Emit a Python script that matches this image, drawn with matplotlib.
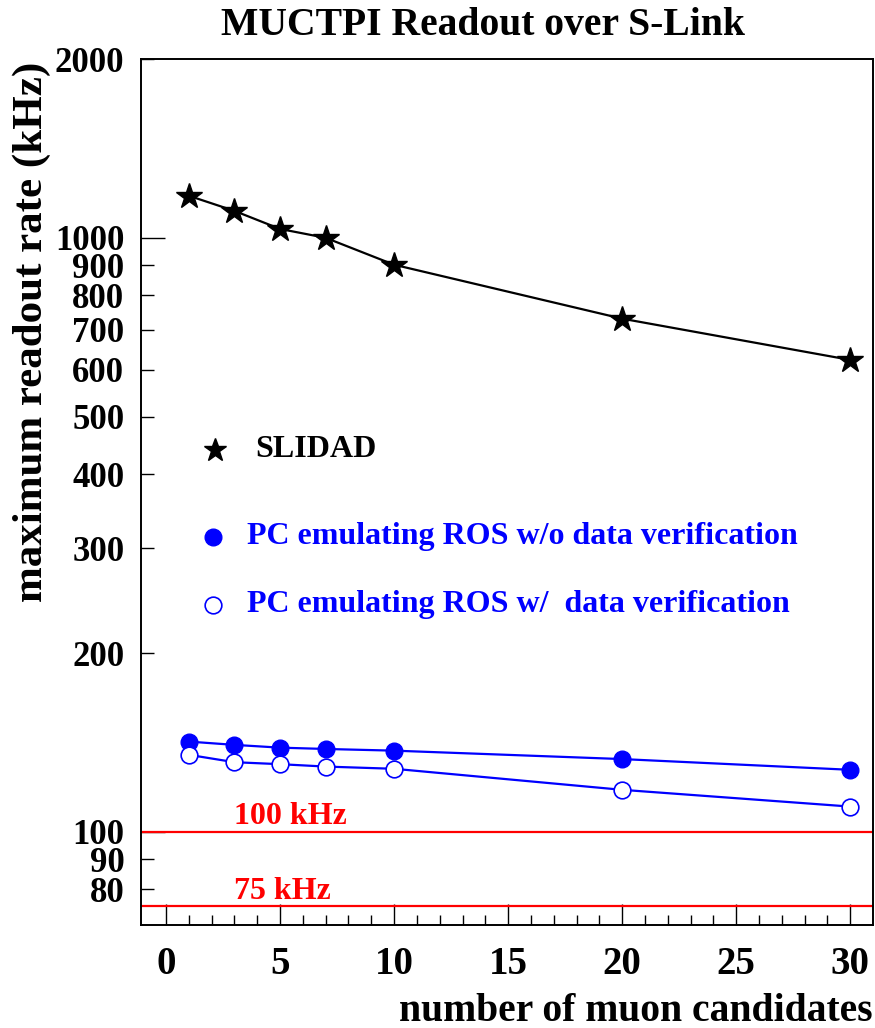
import matplotlib.pyplot as plt
from matplotlib.ticker import FixedLocator, FixedFormatter

# number of muon candidates
ncand = [1, 3, 5, 7, 10, 20, 30]

# maximum readout rate (kHz)
slidad = [1177, 1110, 1035, 1000, 901, 731, 623]
pc_noverif = [141.9, 140.1, 138.6, 137.9, 137.0, 132.6, 127.2]
pc_verif = [134.8, 131.0, 130.0, 128.8, 127.7, 117.7, 110.3]

limits = [100, 75]
limit_labels = ['100 kHz', '75 kHz']

ytick_major = [100, 1000]
ytick_minor = [80, 90, 200, 300, 400, 500, 600, 700, 800, 900, 2000]

plt.rcParams['font.family'] = ['Liberation Serif', 'DejaVu Serif']
plt.rcParams['font.weight'] = 'bold'

fig = plt.figure(figsize=(8.75, 10.28), dpi=100)
ax = fig.add_axes([0.1611, 0.1002, 0.8366, 0.8424])

blue = '#0000ff'
ax.plot(ncand, slidad, color='black', lw=1.6, marker='*', ms=19, zorder=3)
ax.plot(ncand, pc_noverif, color=blue, lw=1.6, marker='o', ms=12, zorder=3)
ax.plot(ncand, pc_verif, color=blue, lw=1.6, marker='o', ms=12,
        markerfacecolor='white', markeredgecolor=blue, markeredgewidth=1.2, zorder=3)

for lim in limits:
    ax.axhline(lim, color='#ff0000', lw=1.6, zorder=2)
ax.text(3.0, 103, limit_labels[0], color='#ff0000', fontsize=23, fontweight='bold')
ax.text(3.0, 77.2, limit_labels[1], color='#ff0000', fontsize=23, fontweight='bold')

ax.set_yscale('log')
ax.set_xlim(-1.1, 31.0)
ax.set_ylim(69.7, 2000)

ax.yaxis.set_major_locator(FixedLocator(ytick_major))
ax.yaxis.set_major_formatter(FixedFormatter([str(v) for v in ytick_major]))
ax.yaxis.set_minor_locator(FixedLocator(ytick_minor))
ax.yaxis.set_minor_formatter(FixedFormatter([str(v) for v in ytick_minor]))
ax.set_xticks([0, 5, 10, 15, 20, 25, 30])
ax.set_xticks(range(0, 31), minor=True)

ax.tick_params(axis='y', which='both', direction='in', right=False, labelsize=25, pad=12)
ax.tick_params(axis='y', which='major', length=17, width=1)
ax.tick_params(axis='y', which='minor', length=9, width=1)
ax.tick_params(axis='x', which='both', direction='in', top=False, labelsize=28, pad=15)
ax.tick_params(axis='x', which='major', length=15, width=1)
ax.tick_params(axis='x', which='minor', length=7, width=1)
for lab in ax.get_xticklabels() + ax.get_yticklabels() + ax.get_yticklabels(minor=True):
    lab.set_fontweight('bold')

for sp in ax.spines.values():
    sp.set_linewidth(1.4)

# legend drawn as in the original, markers with text
ax.plot([2.15], [440], marker='*', color='black', ms=17, ls='none')
ax.text(3.9, 440, 'SLIDAD', fontsize=23, fontweight='bold', va='center')
ax.plot([2.05], [314], marker='o', color=blue, ms=12, ls='none')
ax.text(3.55, 314, 'PC emulating ROS w/o data verification', color=blue,
        fontsize=23, fontweight='bold', va='center')
ax.plot([2.05], [241], marker='o', color=blue, ms=12, ls='none',
        markerfacecolor='white', markeredgewidth=1.2)
ax.text(3.55, 241, 'PC emulating ROS w/  data verification', color=blue,
        fontsize=23, fontweight='bold', va='center')

fig.text(0.552, 0.975, 'MUCTPI Readout over S-Link', ha='center', va='center',
         fontsize=28.5, fontweight='bold')
fig.text(0.997, 0.007, 'number of muon candidates', ha='right', va='baseline',
         fontsize=28.5, fontweight='bold')
fig.text(0.036, 0.94, 'maximum readout rate (kHz)', ha='center', va='top',
         rotation=90, fontsize=31, fontweight='bold')

fig.savefig('out.png', dpi=100)
